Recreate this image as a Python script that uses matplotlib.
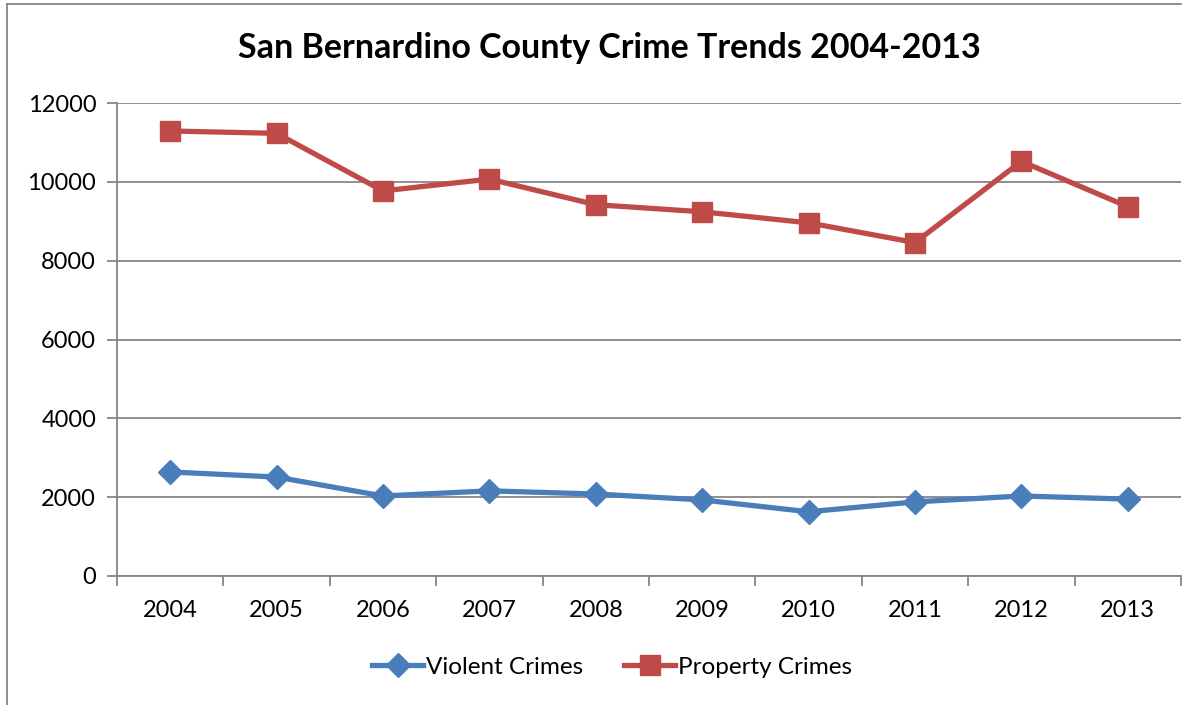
import matplotlib
matplotlib.use("Agg")
import matplotlib.pyplot as plt
from matplotlib.lines import Line2D

years = ["2004", "2005", "2006", "2007", "2008", "2009", "2010", "2011", "2012", "2013"]
violent = [2640, 2510, 2030, 2160, 2080, 1930, 1630, 1880, 2030, 1950]
prop = [11290, 11230, 9770, 10070, 9420, 9240, 8960, 8460, 10520, 9370]
yticks = [0, 2000, 4000, 6000, 8000, 10000, 12000]

W, H = 1203, 705
fig = plt.figure(figsize=(W / 100, H / 100), dpi=100)
plt.rcParams['font.family'] = ['Lato', 'DejaVu Sans']

ax = fig.add_axes([117 / W, (H - 576) / H, (1181 - 117) / W, (576 - 103) / H])
x = list(range(len(years)))
blue = "#4A7EBB"
red = "#BE4B48"
ax.plot(x, violent, color=blue, lw=3.8, marker="D", ms=12, mec=blue, mfc=blue,
        label="Violent Crimes", solid_joinstyle="round", zorder=3)
ax.plot(x, prop, color=red, lw=3.8, marker="s", ms=14, mec=red, mfc=red,
        label="Property Crimes", solid_joinstyle="round", zorder=3)

ax.set_xlim(-0.5, len(years) - 0.5)
ax.set_ylim(0, 12000)
ax.set_yticks(yticks)
ax.set_yticklabels([str(v) for v in yticks])
gray = "#868686"
ax.grid(axis="y", color=gray, lw=1.3)
ax.set_axisbelow(True)
for s in ["top", "right"]:
    ax.spines[s].set_visible(False)
for s in ["left", "bottom"]:
    ax.spines[s].set_color(gray)
    ax.spines[s].set_linewidth(1.3)
ax.tick_params(axis="y", length=7, width=1.3, color=gray, labelsize=17, pad=8)
ax.set_xticks([i - 0.5 for i in range(len(years) + 1)])
ax.set_xticklabels([])
ax.set_xticks(x, minor=True)
ax.set_xticklabels(years, minor=True)
ax.tick_params(axis="x", which="major", length=7, width=1.3, color=gray)
ax.tick_params(axis="x", which="minor", length=0, labelsize=17, pad=17)

fig.text(609 / W, 1 - 48 / H, "San Bernardino County Crime Trends 2004-2013",
         ha="center", va="center", fontsize=24.5, fontweight="bold")

handles = [Line2D([], [], color=blue, lw=3.8, marker="D", ms=12),
           Line2D([], [], color=red, lw=3.8, marker="s", ms=14)]
fig.legend(handles, ["Violent Crimes", "Property Crimes"], loc="center",
           bbox_to_anchor=(612 / W, 1 - 667 / H), ncol=2, frameon=False,
           fontsize=17.5, handlelength=2.1, handletextpad=0.1, columnspacing=1.7)

# outer border
fig.add_artist(Line2D([7 / W, 7 / W], [0, 1 - 4 / H], color=gray, lw=1.3))
fig.add_artist(Line2D([7 / W, 1181 / W], [1 - 4 / H, 1 - 4 / H], color=gray, lw=1.3))

fig.savefig("out.png", dpi=100)
